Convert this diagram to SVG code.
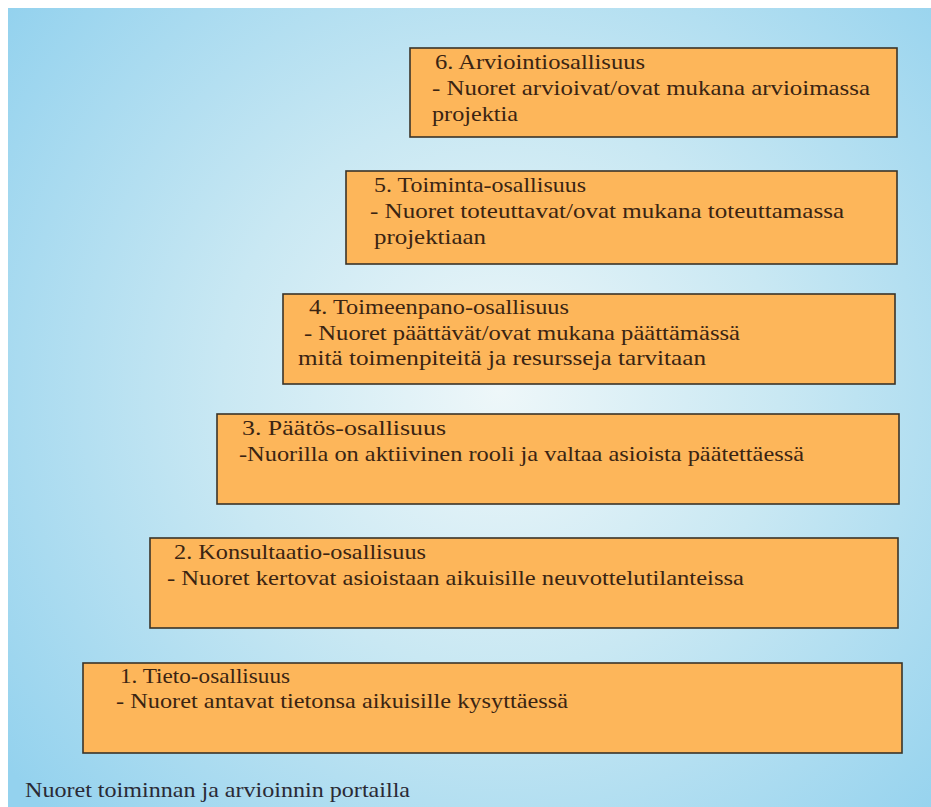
<svg xmlns="http://www.w3.org/2000/svg" width="931" height="807" viewBox="0 0 931 807">
<defs>
<radialGradient id="bg" gradientUnits="userSpaceOnUse" cx="500" cy="390" r="620">
<stop offset="0" stop-color="#eef7f9"/>
<stop offset="0.45" stop-color="#c9e8f3"/>
<stop offset="1" stop-color="#94d2ee"/>
</radialGradient>
</defs>
<style>
.step{fill:#fdb65a;stroke:#3a3428;stroke-width:1.6}
text{font-family:"Liberation Serif","Times New Roman",serif;font-size:21px;fill:#3a2412}
.cap{fill:#2a2a35}
</style>
<rect x="0" y="0" width="931" height="807" fill="#ffffff"/>
<rect x="8" y="8" width="923" height="799" fill="url(#bg)"/>
<g id="connectors"/>
<g id="step6">
<rect class="step" x="410" y="48" width="487" height="89"/>
<text x="435" y="69" textLength="210" lengthAdjust="spacingAndGlyphs">6. Arviointiosallisuus</text>
<text x="432" y="95" textLength="438" lengthAdjust="spacingAndGlyphs">- Nuoret arvioivat/ovat mukana arvioimassa</text>
<text x="432" y="121" textLength="86" lengthAdjust="spacingAndGlyphs">projektia</text>
</g>
<g id="step5">
<rect class="step" x="346" y="171" width="551" height="93"/>
<text x="374" y="192" textLength="212" lengthAdjust="spacingAndGlyphs">5. Toiminta-osallisuus</text>
<text x="370" y="218" textLength="474" lengthAdjust="spacingAndGlyphs">- Nuoret toteuttavat/ovat mukana toteuttamassa</text>
<text x="374" y="244" textLength="112" lengthAdjust="spacingAndGlyphs">projektiaan</text>
</g>
<g id="step4">
<rect class="step" x="283" y="294" width="612" height="90"/>
<text x="309" y="314" textLength="260" lengthAdjust="spacingAndGlyphs">4. Toimeenpano-osallisuus</text>
<text x="304" y="340" textLength="436" lengthAdjust="spacingAndGlyphs">- Nuoret päättävät/ovat mukana päättämässä</text>
<text x="298" y="365" textLength="408" lengthAdjust="spacingAndGlyphs">mitä toimenpiteitä ja resursseja tarvitaan</text>
</g>
<g id="step3">
<rect class="step" x="217" y="414" width="682" height="90"/>
<text x="242" y="435" textLength="204" lengthAdjust="spacingAndGlyphs">3. Päätös-osallisuus</text>
<text x="239" y="461" textLength="565" lengthAdjust="spacingAndGlyphs">-Nuorilla on aktiivinen rooli ja valtaa asioista päätettäessä</text>
</g>
<g id="step2">
<rect class="step" x="150" y="538" width="748" height="90"/>
<text x="174" y="559" textLength="252" lengthAdjust="spacingAndGlyphs">2. Konsultaatio-osallisuus</text>
<text x="167" y="585" textLength="577" lengthAdjust="spacingAndGlyphs">- Nuoret kertovat asioistaan aikuisille neuvottelutilanteissa</text>
</g>
<g id="step1">
<rect class="step" x="83" y="663" width="819" height="90"/>
<text x="120" y="683" textLength="170" lengthAdjust="spacingAndGlyphs">1. Tieto-osallisuus</text>
<text x="116" y="708" textLength="452" lengthAdjust="spacingAndGlyphs">- Nuoret antavat tietonsa aikuisille kysyttäessä</text>
</g>
<g id="caption">
<text class="cap" x="25" y="797" textLength="385" lengthAdjust="spacingAndGlyphs">Nuoret toiminnan ja arvioinnin portailla</text>
</g>
</svg>
